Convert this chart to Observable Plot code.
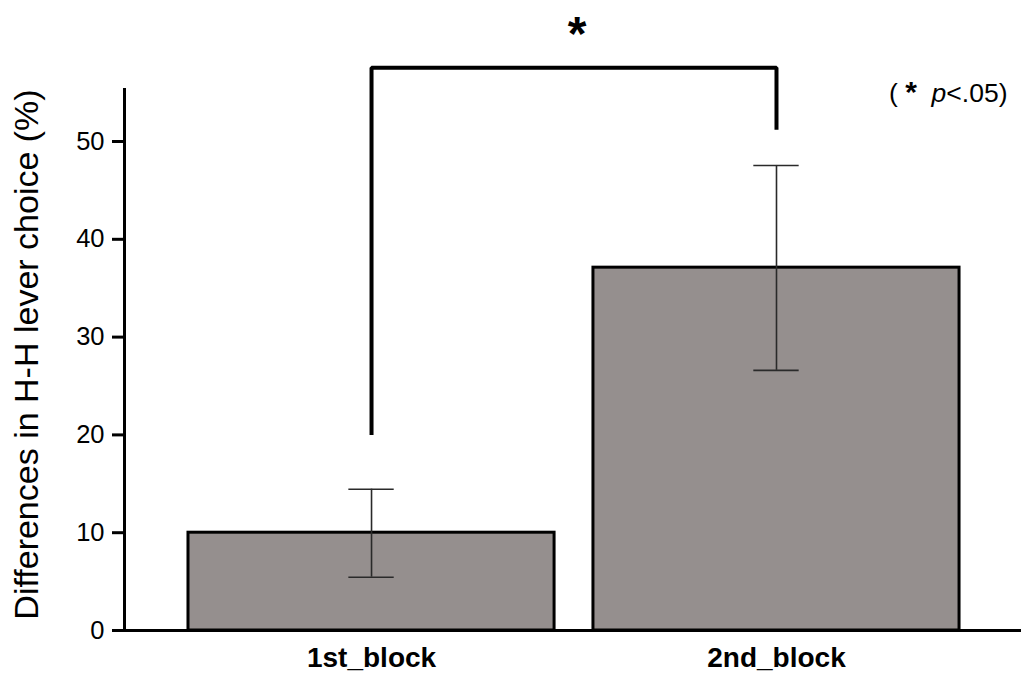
<!DOCTYPE html>
<html><head><meta charset="utf-8">
<script src="https://cdn.jsdelivr.net/npm/d3@7"></script>
<script src="https://cdn.jsdelivr.net/npm/@observablehq/plot@0.6"></script>
<style>body{margin:0;background:#fff}</style>
</head><body><div id="chart"></div>
<script>
const categories = ["1st_block", "2nd_block"];
const means = [10.0, 37.1];
const errLow = [5.45, 26.6];
const errHigh = [14.45, 47.55];
const yTicks = [0, 10, 20, 30, 40, 50];
const bracketX = [0, 0, 1, 1];
const bracketY = [20, 57.55, 57.55, 51.2];
const starY = 60.9;
const yLabel = "Differences in H-H lever choice (%)";
const noteText = "( * p<.05)";

const idx = categories.map((_, i) => i);
const data = idx.map(i => ({i, cat: categories[i], mean: means[i], lo: errLow[i], hi: errHigh[i]}));
const half = 0.452, cap = 0.056;
const xDomain = [-0.61, 1.605];
const yDomain = [0, 55.42];
const font = "Liberation Sans, Arial, sans-serif";

const plot = Plot.plot({
  width: 1021, height: 675,
  marginLeft: 124, marginRight: 0, marginTop: 88, marginBottom: 45,
  style: {fontFamily: font, background: "#fff", color: "#000"},
  x: {domain: xDomain, axis: null},
  y: {domain: yDomain, axis: null},
  marks: [
    Plot.rectY(data, {x1: d => d.i - half, x2: d => d.i + half, y1: 0, y2: "mean", fill: "#958f8e", stroke: "#000", strokeWidth: 3}),
    Plot.ruleX(data, {x: "i", y1: "lo", y2: "hi", stroke: "#2a2a2a", strokeWidth: 1.6}),
    Plot.ruleY(data, {y: "lo", x1: d => d.i - cap, x2: d => d.i + cap, stroke: "#2a2a2a", strokeWidth: 1.6}),
    Plot.ruleY(data, {y: "hi", x1: d => d.i - cap, x2: d => d.i + cap, stroke: "#2a2a2a", strokeWidth: 1.6}),
    Plot.ruleY([0], {stroke: "#000", strokeWidth: 3}),
    Plot.ruleX([xDomain[0]], {y1: yDomain[0], y2: yDomain[1], stroke: "#000", strokeWidth: 3}),
    Plot.axisY({ticks: yTicks, tickSize: 12, tickPadding: 8, fontSize: 25.5, strokeWidth: 3, label: null, tickFormat: d => d}),
    Plot.axisX({ticks: idx, tickSize: 0, tickPadding: 17, fontSize: 28, fontWeight: "bold", label: null, tickFormat: i => categories[i]}),
    Plot.text([yLabel], {frameAnchor: "left", dx: -97, dy: -5, rotate: -90, fontSize: 34, lineAnchor: "middle", textAnchor: "middle"}),
    Plot.line(bracketX.map((x, k) => ({x, y: bracketY[k]})), {x: "x", y: "y", stroke: "#000", strokeWidth: 4, strokeLinejoin: "miter", strokeLinecap: "butt"}),
    Plot.text(["*"], {x: 0.5, y: starY, fontSize: 48, fontWeight: "bold", lineAnchor: "middle", textAnchor: "middle", dx: 3}),
    Plot.text([noteText], {frameAnchor: "top-right", dx: -14, dy: 5, fontSize: 26.5, lineAnchor: "middle", textAnchor: "end"})
  ]
});
// italic "p" and bold star in the note
d3.select(plot).selectAll("text").filter(function() { return this.textContent === noteText; }).each(function() {
  const t = d3.select(this);
  t.text(null);
  t.append("tspan").text("( ");
  t.append("tspan").attr("font-weight", "bold").attr("font-size", 30).text("*");
  t.append("tspan").text("  ");
  t.append("tspan").attr("font-style", "italic").text("p");
  t.append("tspan").text("<.05)");
});
document.getElementById("chart").append(plot);
</script>
</body></html>
